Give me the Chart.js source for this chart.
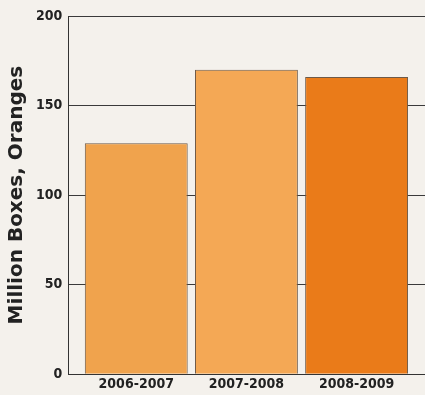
<!DOCTYPE html>
<html>
<head>
<meta charset="utf-8">
<script src="https://cdn.jsdelivr.net/npm/chart.js@4"></script>
<style>
  html, body { margin: 0; padding: 0; background: #f4f1ec; }
  #wrap { width: 425px; height: 395px; }
</style>
</head>
<body>
<div id="wrap"><canvas id="chart" width="425" height="395"></canvas></div>
<script>
// Datos
const temporadas = ["2006-2007", "2007-2008", "2008-2009"];
const cajas = [129, 170, 166];
const colores = ["#f0a34d", "#f4a855", "#ea7b19"];

const fuenteEjes = "'DejaVu Sans Condensed', 'Liberation Sans', Arial, sans-serif";

new Chart(document.getElementById("chart"), {
    type: "bar",
    data: {
        datasets: [{
            data: cajas.map((v, i) => ({ x: i, y: v })),
            backgroundColor: colores,
            borderColor: "#6e5a48",
            borderWidth: 1,
            barPercentage: 0.934,
            categoryPercentage: 1
        }]
    },
    options: {
        responsive: false,
        animation: false,
        layout: { padding: { top: 16, right: 0, left: 5, bottom: 0 } },
        plugins: {
            legend: { display: false },
            tooltip: { enabled: false }
        },
        scales: {
            x: {
                type: "linear",
                offset: false,
                min: -0.617,
                max: 2.621,
                afterBuildTicks: (axis) => {
                    axis.ticks = temporadas.map((t, i) => ({ value: i }));
                },
                grid: { display: false, drawTicks: false },
                border: { display: true, color: "#333", width: 1 },
                ticks: {
                    padding: 2,
                    color: "#222",
                    maxRotation: 0,
                    autoSkip: false,
                    font: { family: fuenteEjes, size: 14, weight: "bold", lineHeight: 1.2 },
                    callback: (v) => temporadas[v] ?? ""
                }
            },
            y: {
                min: 0,
                max: 200,
                ticks: {
                    stepSize: 50,
                    padding: 6,
                    color: "#222",
                    font: { family: fuenteEjes, size: 14, weight: "bold" }
                },
                grid: { color: "#3a3a3a", lineWidth: 1, drawTicks: false },
                border: { display: true, color: "#333", width: 1 },
                title: {
                    display: true,
                    text: "Million Boxes, Oranges",
                    color: "#222",
                    padding: { top: 0, bottom: 1 },
                    font: { family: "'DejaVu Sans', Arial, sans-serif", size: 20, weight: "bold" }
                }
            }
        }
    }
});
</script>
</body>
</html>
